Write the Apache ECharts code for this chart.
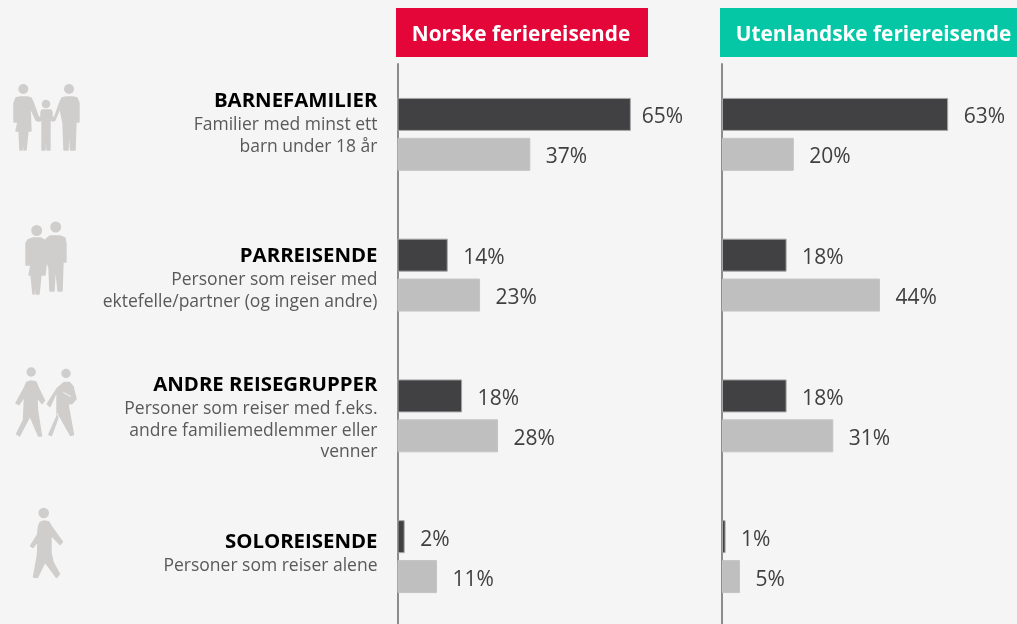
<!DOCTYPE html>
<html>
<head>
<meta charset="utf-8">
<style>html,body{margin:0;padding:0;background:#f5f5f5}#c{width:1017px;height:624px}</style>
<script src="https://cdn.jsdelivr.net/npm/echarts@6/dist/echarts.min.js"></script>
</head>
<body>
<div id="c"></div>
<script>
const categories = ['Barnefamilier', 'Parreisende', 'Andre reisegrupper', 'Soloreisende'];
const headers = ['Norske feriereisende', 'Utenlandske feriereisende'];
const norskeDark = [65, 14, 18, 2];
const norskeLight = [37, 23, 28, 11];
const utenlandskeDark = [63, 18, 18, 1];
const utenlandskeLight = [20, 44, 31, 5];
const titles = ['BARNEFAMILIER', 'PARREISENDE', 'ANDRE REISEGRUPPER', 'SOLOREISENDE'];
const descriptions = [
  ['Familier med minst ett', 'barn under 18 år'],
  ['Personer som reiser med', 'ektefelle/partner (og ingen andre)'],
  ['Personer som reiser med f.eks.', 'andre familiemedlemmer eller', 'venner'],
  ['Personer som reiser alene']
];

const FONT = '"Open Sans", sans-serif';
const DARK = '#414042', LIGHT = '#bfbfbf', ICON = '#d0cecd';
const titleBase = [105.5, 260.5, 389.5, 546.5];
const descBase = [[128, 150], [283, 305], [412, 434, 455.5], [569]];

function txt(x, y, s, size, weight, fill) {
  return {type: 'text', x, y, z: 10, style: {text: s, fill, font: weight + ' ' + size + 'px ' + FONT, align: 'right', verticalAlign: 'bottom'}};
}
const gfx = [
  {type: 'rect', z: 5, shape: {x: 396, y: 8, width: 252, height: 49}, style: {fill: '#e40539'}},
  {type: 'rect', z: 5, shape: {x: 720, y: 8, width: 297, height: 49}, style: {fill: '#05c7a6'}},
  {type: 'text', z: 10, x: 521, y: 35, style: {text: headers[0], fill: '#fff', font: 'bold 20.8px ' + FONT, align: 'center', verticalAlign: 'middle'}},
  {type: 'text', z: 10, x: 873.5, y: 35, style: {text: headers[1], fill: '#fff', font: 'bold 20.8px ' + FONT, align: 'center', verticalAlign: 'middle'}}
];
titles.forEach((t, i) => {
  gfx.push(txt(377.5, titleBase[i] + 6, t, 20.4, 'bold', '#000'));
  descriptions[i].forEach((d, j) => gfx.push(txt(377.5, descBase[i][j] + 6, d, 17.5, 'normal', '#595959')));
});

const iconShapes = [
  // family
  [[14,103],[16,98],[20,97],[27,97],[31,98],[33,102],[38,116],[41,119],[41,112],[42,110],[44,110],[49,110],[51,110],[52,112],[52,119],[55,116],[60,102],[62,98],[66,97],[73,97],[77,98],[79,103],[79,122],[76,122],[75,150],[70.5,150],[69,124],[68,150],[64,150],[63,123],[60,108],[55,120],[53,121],[51,120],[50,118],[50,150],[47,150],[46,128],[45,150],[42,150],[42,118],[40,121],[38,121],[36,120],[30,107],[31,131],[28,131],[26,150],[24,150],[23,133],[22,150],[20,150],[19,131],[16,131],[18,122],[14,122]],
  // couple, woman
  [[26,243],[28,240],[33,238],[41,238],[46,241],[47,256],[45,275],[41,275],[39,294],[36,294],[35,277],[34,294],[33,294],[31,275],[29,275],[31,265],[26,265]],
  // couple, man
  [[46,239],[50,236],[54,236],[60,236],[65,238],[66,244],[66,262],[63,262],[62,291],[58,291],[55.5,265],[54,291],[50,291],[49,268],[45,256]],
  // walker left
  [[31,381],[36,382],[38.5,388],[44.5,400.5],[42,403.5],[37,397],[37.5,410],[41.5,436],[38.5,436],[30,416],[19.5,436],[16.5,434],[23.5,420],[24.5,396],[19,404.5],[16,403],[24.5,387.5],[26.5,382.5]],
  // walker right
  [[64,382.5],[69.5,382.5],[73,386.5],[76,399],[72,403.5],[68,404],[73.5,434.5],[70.5,435.5],[59,415],[51.5,435.5],[48.8,434.5],[57,416],[57,391],[50,406.5],[47.2,404],[57,388.5]],
  // solo
  [[44,521],[49,522],[51,526],[62.5,542],[60,544.5],[51,535],[51,553],[53,562],[59.5,574],[56.5,577.5],[45,562],[37.5,577.5],[33.5,577],[37.5,555],[38,541],[33,547.5],[30.5,546],[37.5,535],[38.5,527],[40,522.5]]
];
const iconHeads = [[23.3, 89, 5], [46, 104, 4.3], [69, 89, 5], [36.7, 230.5, 5.5], [55.7, 227, 5.5], [31.2, 372, 4.7], [66, 373.5, 4.7], [43.7, 513, 5.3]];
iconShapes.forEach(p => gfx.push({type: 'polygon', z: 3, shape: {points: p}, style: {fill: ICON, stroke: ICON, lineWidth: 1.4, lineJoin: 'round'}}));
iconHeads.forEach(h => gfx.push({type: 'circle', z: 3, shape: {cx: h[0], cy: h[1], r: h[2]}, style: {fill: ICON}}));
gfx.push({type: 'polyline', z: 4, shape: {points: [[63.3, 392.5], [71, 396.5]]}, style: {stroke: '#f5f5f5', lineWidth: 1, fill: null}});
gfx.push({type: 'polyline', z: 4, shape: {points: [[57, 413], [60, 421]]}, style: {stroke: '#f5f5f5', lineWidth: 0.8, fill: null}});

function barSeries(name, data, idx, color, border) {
  return {
    name, type: 'bar', data, xAxisIndex: idx, yAxisIndex: idx,
    barWidth: 33, barGap: '21%',
    itemStyle: {color, borderColor: border, borderWidth: 1},
    label: {show: true, position: 'right', distance: 15.5, offset: [0, 3], formatter: '{c}%', color: '#404040', fontFamily: FONT, fontSize: 21},
    animation: false, silent: true
  };
}
const grids = [
  {left: 397.5, top: 64, width: 359, height: 563, outerBoundsMode: 'none'},
  {left: 722, top: 64, width: 359, height: 563, outerBoundsMode: 'none'}
];
const norskeDarkItems = norskeDark.map((v, i) => i === 0
  ? {value: v, label: {distance: 11, offset: [0, 3]}}
  : v);
const chart = echarts.init(document.getElementById('c'), null, {renderer: 'canvas'});
chart.setOption({
  backgroundColor: '#f5f5f5',
  animation: false,
  tooltip: {show: false},
  grid: grids,
  xAxis: grids.map((g, i) => ({gridIndex: i, type: 'value', min: 0, max: 100, show: false})),
  yAxis: grids.map((g, i) => ({
    gridIndex: i, type: 'category', inverse: true, data: categories,
    axisLine: {show: true, lineStyle: {color: '#8c8c8c', width: 2}},
    axisTick: {show: false}, axisLabel: {show: false}, splitLine: {show: false}
  })),
  series: [
    barSeries('Norske dark', norskeDarkItems, 0, DARK, '#a6a6a6'),
    barSeries('Norske light', norskeLight, 0, LIGHT, '#c4c4c4'),
    barSeries('Utenlandske dark', utenlandskeDark, 1, DARK, '#a6a6a6'),
    barSeries('Utenlandske light', utenlandskeLight, 1, LIGHT, '#c4c4c4')
  ],
  graphic: {elements: gfx}
});
</script>
</body>
</html>
